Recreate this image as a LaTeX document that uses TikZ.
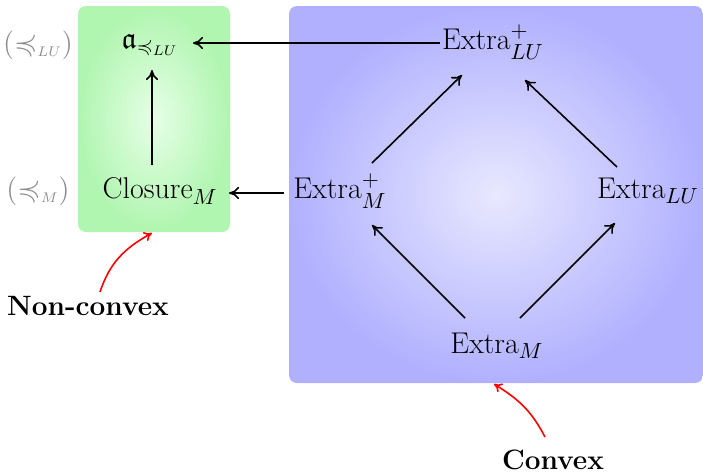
\documentclass[tikz,border=0pt]{standalone}
\usepackage{amssymb}
\usetikzlibrary{arrows.meta}
\definecolor{gin}{HTML}{E6FFE6}
\definecolor{gout}{HTML}{B0F5B0}
\definecolor{bin}{HTML}{E8E8FF}
\definecolor{bout}{HTML}{B0B0FF}
\tikzset{
  lbl/.style={font=\fontsize{15}{18}\selectfont, inner sep=1pt},
  side/.style={font=\fontsize{15}{18}\selectfont, text=gray!90, inner sep=1pt},
  note/.style={font=\fontsize{14}{17}\selectfont\bfseries, inner sep=1pt},
  arr/.style={-{To[length=5pt,width=6pt]}, line width=0.8pt, black},
  redarr/.style={-{To[length=4pt,width=5pt]}, line width=0.8pt, red},
}
\begin{document}
\begin{tikzpicture}[x=0.5pt,y=-0.5pt]
\useasboundingbox (0,0) rectangle (703,473);
\shade[inner color=gin, outer color=gout, rounded corners=4pt] (78,6) rectangle (230,232);
\shade[inner color=bin, outer color=bout, rounded corners=4pt] (289,6) rectangle (703,383);
\coordinate (gbot) at (152,233);
\coordinate (bbot) at (494,384);

\node[lbl] (a) at (150,45) {$\mathfrak{a}_{\preccurlyeq_{LU}}$};
\node[lbl] (cl) at (160,191) {Closure$_M$};
\node[lbl] (eplu) at (493,42) {Extra$^+_{LU}$};
\node[lbl] (epm) at (340,191) {Extra$^+_M$};
\node[lbl] (elu) at (648,191) {Extra$_{LU}$};
\node[lbl] (em) at (497,346) {Extra$_M$};
\node[side] (s1) at (38,45) {$(\preccurlyeq_{\scriptscriptstyle LU})$};
\node[side] (s2) at (38,191) {$(\preccurlyeq_{\scriptscriptstyle M})$};
\node[note] (nc) at (88,306) {Non-convex};
\node[note] (cv) at (553,460) {Convex};

\draw[arr] (eplu.west |- 0,43) -- (193,43);
\draw[arr] (152,165) -- (152,70);
\draw[arr] (284,193) -- (229,193);
\draw[arr] (372,163) -- (462,75);
\draw[arr] (617,167) -- (525,80);
\draw[arr] (465,318) -- (372,225);
\draw[arr] (520,318) -- (615,223);
\draw[redarr] (100,292) .. controls (110,262) and (125,248) .. (gbot);
\draw[redarr] (545,437) .. controls (532,412) and (520,400) .. (bbot);
\end{tikzpicture}
\end{document}
